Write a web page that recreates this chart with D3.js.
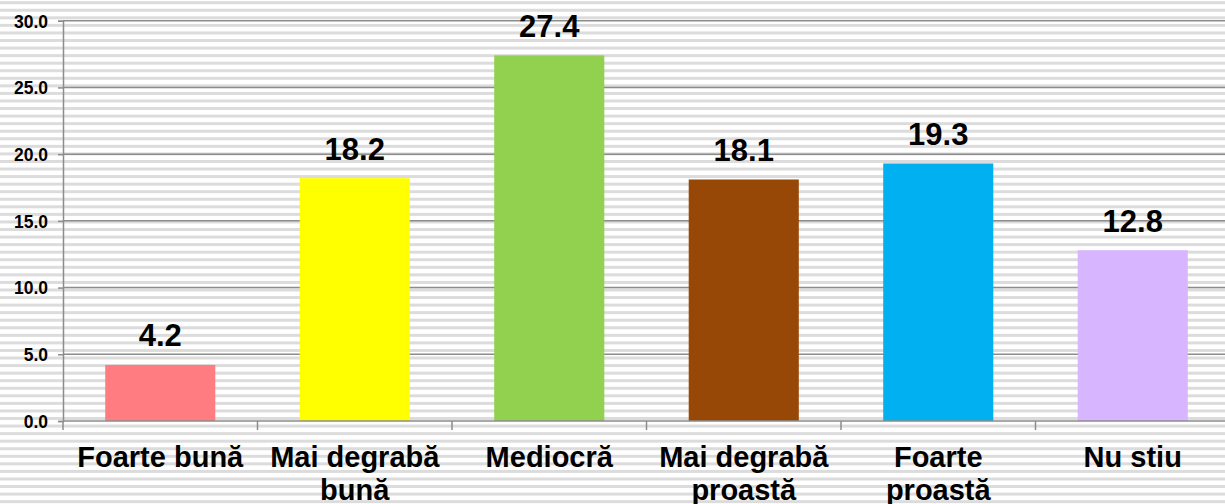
<!DOCTYPE html>
<html>
<head>
<meta charset="utf-8">
<script src="https://cdn.jsdelivr.net/npm/d3@7"></script>
<style>
  html, body { margin: 0; padding: 0; background: #fff; }
  svg { display: block; font-family: "Liberation Sans", Arial, sans-serif; }
</style>
</head>
<body>
<svg id="chart" width="1225" height="504"></svg>
<script>
// Survey answers (percent)
const categories = ["Foarte bună", "Mai degrabă bună", "Mediocră", "Mai degrabă proastă", "Foarte proastă", "Nu stiu"];
const categoryLines = [["Foarte bună"], ["Mai degrabă", "bună"], ["Mediocră"], ["Mai degrabă", "proastă"], ["Foarte", "proastă"], ["Nu stiu"]];
const values = [4.2, 18.2, 27.4, 18.1, 19.3, 12.8];
const barColors = ["#FF7C80", "#FFFF00", "#92D050", "#974706", "#00B0F0", "#D7B5FF"];
const yTicks = [0, 5, 10, 15, 20, 25, 30];

const W = 1225, H = 504;
const svg = d3.select("#chart");

// Striped backdrop
const stripePeriod = 7.56;
const stripes = d3.range(1.2, H, stripePeriod);
svg.append("g").selectAll("rect").data(stripes).join("rect")
  .attr("x", 0).attr("y", d => d).attr("width", W).attr("height", 3)
  .attr("fill", "#dcdcdc");

const plotLeft = 63, plotRight = 1230, plotTop = 20.7, plotBottom = 421;

const x = d3.scaleBand().domain(categories).range([plotLeft, plotRight])
  .paddingInner(0.434).paddingOuter(0.217);
const y = d3.scaleLinear().domain([0, 30]).range([plotBottom, plotTop]);

// Horizontal gridlines
svg.append("g").selectAll("line").data(yTicks.filter(t => t > 0)).join("line")
  .attr("x1", plotLeft).attr("x2", W)
  .attr("y1", d => y(d)).attr("y2", d => y(d))
  .attr("stroke", "#8c8c8c").attr("stroke-width", 1.5);

// Bars
svg.append("g").selectAll("rect").data(values).join("rect")
  .attr("x", (d, i) => x(categories[i]))
  .attr("y", d => y(d))
  .attr("width", x.bandwidth())
  .attr("height", d => y(0) - y(d))
  .attr("fill", (d, i) => barColors[i]);

// Y axis
const yAxis = svg.append("g").attr("transform", `translate(${plotLeft},0)`)
  .call(d3.axisLeft(y).tickValues(yTicks).tickFormat(d3.format(".1f")).tickSize(5).tickPadding(10));
yAxis.select(".domain").attr("stroke", "#8c8c8c").attr("stroke-width", 1.5);
yAxis.selectAll(".tick line").attr("stroke", "#8c8c8c").attr("stroke-width", 1.5);
yAxis.selectAll(".tick text")
  .attr("font-size", "17.5px").attr("font-weight", "bold").attr("fill", "#000")
  .attr("dy", "0.36em");

// Category axis line and boundary ticks
svg.append("line")
  .attr("x1", plotLeft).attr("x2", W).attr("y1", plotBottom).attr("y2", plotBottom)
  .attr("stroke", "#8c8c8c").attr("stroke-width", 1.5);
const step = x.step();
const boundaries = d3.range(categories.length).map(i => plotLeft + i * step);
svg.append("g").selectAll("line").data(boundaries).join("line")
  .attr("x1", d => d).attr("x2", d => d)
  .attr("y1", plotBottom).attr("y2", plotBottom + 9)
  .attr("stroke", "#8c8c8c").attr("stroke-width", 1.5);

// Category labels
const labels = svg.append("g").selectAll("text").data(categoryLines).join("text")
  .attr("text-anchor", "middle")
  .attr("font-size", "29px").attr("font-weight", "bold").attr("fill", "#000")
  .attr("transform", (d, i) => `translate(${x(categories[i]) + x.bandwidth() / 2},467)`);
labels.selectAll("tspan").data(d => d).join("tspan")
  .attr("x", 0).attr("y", (d, j) => j * 33).text(d => d);

// Value labels
svg.append("g").selectAll("text").data(values).join("text")
  .attr("x", (d, i) => x(categories[i]) + x.bandwidth() / 2)
  .attr("y", d => y(d) - 18.5)
  .attr("text-anchor", "middle")
  .attr("font-size", "31px").attr("font-weight", "bold").attr("fill", "#000")
  .text(d => d3.format(".1f")(d));
</script>
</body>
</html>
